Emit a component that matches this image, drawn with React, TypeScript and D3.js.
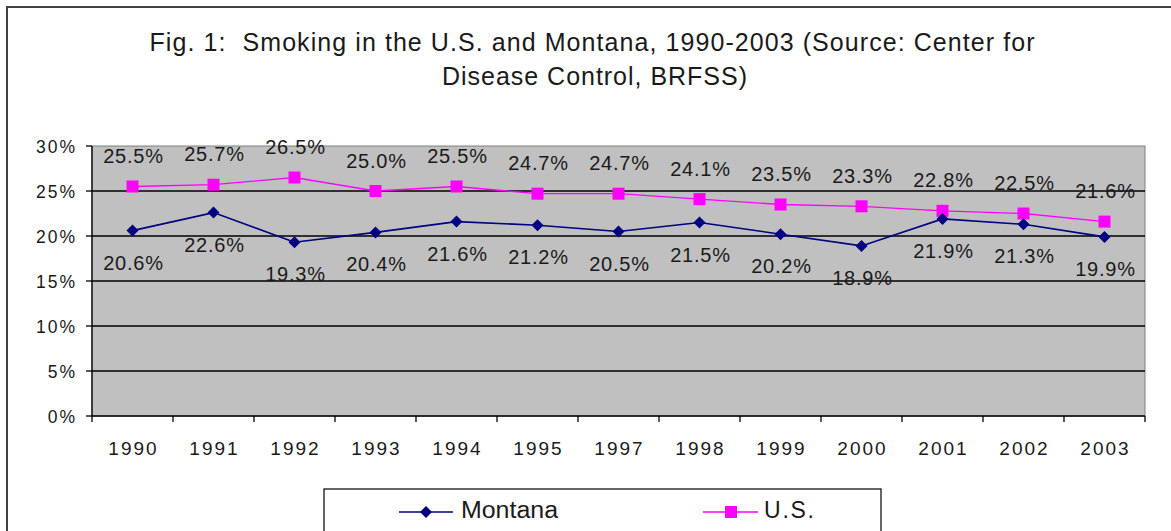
import React from "react";
import * as d3 from "d3";

const years = ["1990","1991","1992","1993","1994","1995","1997","1998","1999","2000","2001","2002","2003"];
const montana = [20.6, 22.6, 19.3, 20.4, 21.6, 21.2, 20.5, 21.5, 20.2, 18.9, 21.9, 21.3, 19.9];
const us = [25.5, 25.7, 26.5, 25.0, 25.5, 24.7, 24.7, 24.1, 23.5, 23.3, 22.8, 22.5, 21.6];
const yTicks = [0, 5, 10, 15, 20, 25, 30];
const titleLines = [
  "Fig. 1:  Smoking in the U.S. and Montana, 1990-2003 (Source: Center for",
  "Disease Control, BRFSS)",
];
const seriesNames = ["Montana", "U.S."];

const W = 1171, H = 531;
const FONT = "'Liberation Sans', Arial, Helvetica, sans-serif";
const TXT = "#1a1a1a";

export default function App() {
  const left = 92, right = 1145, top = 146, bottom = 416;
  const x = d3.scaleBand<string>().domain(years).range([left, right]).paddingInner(0).paddingOuter(0);
  const y = d3.scaleLinear().domain([0, 30]).range([bottom, top]);
  const cx = (d: string) => (x(d) as number) + x.bandwidth() / 2;

  const line = d3.line<number>().x((_, i) => cx(years[i])).y((v) => y(v));
  const diamond = (px: number, py: number, r: number) =>
    `M${px},${py - r}L${px + r},${py}L${px},${py + r}L${px - r},${py}Z`;

  const boundaries = years.map((d) => x(d) as number).concat([right]);

  return (
    <div style={{ position: "fixed", left: 0, top: 0 }}>
      <svg width={W} height={H} style={{ display: "block", background: "#fff" }} fontFamily={FONT}>
        <rect x={0} y={0} width={W} height={H} fill="#fff" />
        {/* outer chart border */}
        <rect x={7} y={7} width={W + 10} height={H + 10} fill="none" stroke="#404040" strokeWidth={2} />

        {/* title */}
        <text x={592} y={51} textAnchor="middle" fontSize={25} fill={TXT} textLength={885} lengthAdjust="spacing"
          xmlSpace="preserve" style={{ whiteSpace: "pre" }}>
          {titleLines[0]}
        </text>
        <text x={594.5} y={85} textAnchor="middle" fontSize={25} fill={TXT} textLength={305} lengthAdjust="spacing">
          {titleLines[1]}
        </text>

        {/* plot area */}
        <rect x={left} y={top} width={right - left} height={bottom - top} fill="#c0c0c0" stroke="#808080" strokeWidth={1} />
        {yTicks.filter((t) => t > 0 && t < 30).map((t) => (
          <line key={t} x1={left} x2={right} y1={y(t)} y2={y(t)} stroke="#000" strokeWidth={1.3} />
        ))}
        {/* y axis */}
        <line x1={left} x2={left} y1={top} y2={bottom} stroke="#000" strokeWidth={1.3} />
        {yTicks.map((t) => (
          <g key={t}>
            <line x1={left - 6} x2={left} y1={y(t)} y2={y(t)} stroke="#000" strokeWidth={1.3} />
            <text x={77} y={y(t) + 7} textAnchor="end" fontSize={17.5} letterSpacing={2} fill={TXT}>
              {t + "%"}
            </text>
          </g>
        ))}
        {/* x axis */}
        <line x1={left} x2={right} y1={bottom} y2={bottom} stroke="#000" strokeWidth={1.3} />
        {boundaries.map((b, i) => (
          <line key={i} x1={b} x2={b} y1={bottom} y2={bottom + 6} stroke="#000" strokeWidth={1.3} />
        ))}
        {years.map((d) => (
          <text key={d} x={cx(d) + 1} y={455} textAnchor="middle" fontSize={19} letterSpacing={2} fill={TXT}>
            {d}
          </text>
        ))}

        {/* series lines */}
        <path d={line(us) || ""} fill="none" stroke="#ff00ff" strokeWidth={1.3} />
        <path d={line(montana) || ""} fill="none" stroke="#000080" strokeWidth={1.6} />

        {/* markers */}
        {us.map((v, i) => (
          <rect key={i} x={cx(years[i]) - 6} y={y(v) - 6} width={12} height={12} fill="#ff00ff" />
        ))}
        {montana.map((v, i) => (
          <path key={i} d={diamond(cx(years[i]), y(v), 6)} fill="#000080" />
        ))}

        {/* data labels */}
        {us.map((v, i) => (
          <text key={i} x={cx(years[i]) + 1} y={y(v) - 23.5} textAnchor="middle" fontSize={20} letterSpacing={0.8} fill={TXT}>
            {v.toFixed(1) + "%"}
          </text>
        ))}
        {montana.map((v, i) => (
          <text key={i} x={cx(years[i]) + 1} y={y(v) + 39} textAnchor="middle" fontSize={20} letterSpacing={0.8} fill={TXT}>
            {v.toFixed(1) + "%"}
          </text>
        ))}

        {/* legend */}
        <rect x={324} y={489} width={557} height={60} fill="#fff" stroke="#000" strokeWidth={1.2} />
        <line x1={399} x2={453} y1={512} y2={512} stroke="#000080" strokeWidth={1.6} />
        <path d={diamond(426, 512, 6)} fill="#000080" />
        <text x={461} y={518} fontSize={23} fill={TXT} textLength={97} lengthAdjust="spacingAndGlyphs">
          {seriesNames[0]}
        </text>
        <line x1={703} x2={758} y1={512} y2={512} stroke="#ff00ff" strokeWidth={1.3} />
        <rect x={725} y={506} width={12} height={12} fill="#ff00ff" />
        <text x={764} y={518} fontSize={23} fill={TXT} textLength={50} lengthAdjust="spacing">
          {seriesNames[1]}
        </text>
      </svg>
    </div>
  );
}
